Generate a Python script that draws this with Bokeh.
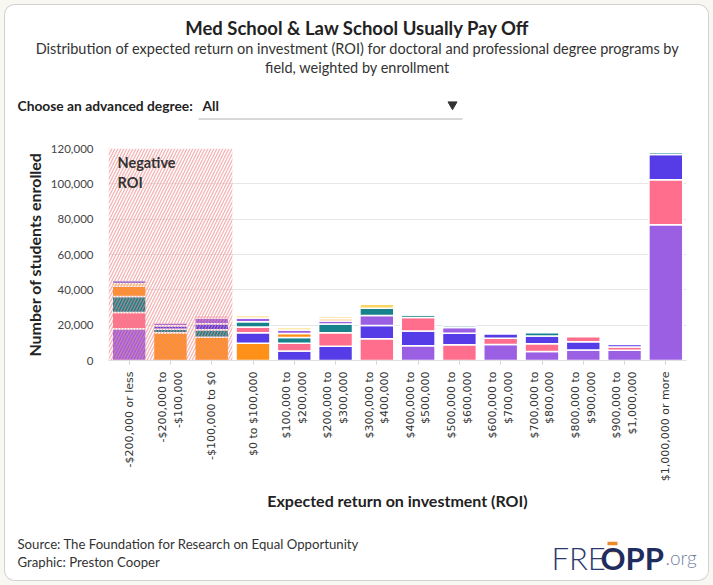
import numpy as np
from bokeh.plotting import figure
from bokeh.models import (ColumnDataSource, FactorRange, Range1d, Label, FixedTicker,
                          NumeralTickFormatter)
from bokeh.layouts import column
from bokeh.embed import file_html
from bokeh.resources import INLINE

# ROI bins (x categories)
roi_bins = [
    "-$200,000 or less", "-$200,000 to\n-$100,000", "-$100,000 to $0", "$0 to $100,000",
    "$100,000 to\n$200,000", "$200,000 to\n$300,000", "$300,000 to\n$400,000",
    "$400,000 to\n$500,000", "$500,000 to\n$600,000", "$600,000 to\n$700,000",
    "$700,000 to\n$800,000", "$800,000 to\n$900,000", "$900,000 to\n$1,000,000",
    "$1,000,000 or more",
]

# Enrollment per field group in each ROI bin
group_purple = [18000, 1800, 3300, 2200, 1900, 1600, 5700, 8400, 3300, 9100, 5100, 6000, 5800, 76800]
group_pink   = [9200, 0, 1200, 3200, 4400, 7700, 12300, 7600, 8900, 3500, 4400, 2800, 1800, 25500]
group_teal   = [9000, 2000, 4200, 3000, 3200, 5000, 4100, 1400, 1000, 0, 1900, 0, 0, 1100]
group_orange = [5800, 15700, 13200, 9800, 2300, 1300, 0, 0, 0, 0, 0, 0, 0, 0]
group_yellow = [1600, 800, 500, 1200, 1300, 1200, 2200, 800, 0, 700, 0, 0, 0, 0]
group_blue   = [1500, 1900, 3400, 5900, 5400, 8000, 7500, 8300, 6500, 2500, 4300, 4600, 1400, 14300]

groups = [group_purple, group_pink, group_teal, group_orange, group_yellow, group_blue]
group_colors = ["#9b5fe3", "#ff6e8c", "#17828c", "#ff9119", "#f9d563", "#553ce6"]

y_ticks = [0, 20000, 40000, 60000, 80000, 100000, 120000]

# Page geometry: a white card inset 5px inside a cream page
PAGE_W, PAGE_H = 713, 585
INSET = 5
W = PAGE_W - 2 * INSET
HEAD_BOTTOM, CHART_BOTTOM = 135, 525          # page y where each strip ends
FRAME_L, FRAME_R, FRAME_T, FRAME_B = 108, 686, 148, 360

# Stack each bin's groups largest-first
xs, bottoms, tops, colors = [], [], [], []
for i, cat in enumerate(roi_bins):
    vals = [(g[i], c) for g, c in zip(groups, group_colors) if g[i] > 0]
    vals.sort(key=lambda t: -t[0])
    base = 0
    for v, c in vals:
        xs.append(cat)
        bottoms.append(base)
        tops.append(base + v)
        colors.append(c)
        base += v

src = ColumnDataSource(dict(x=xs, bottom=bottoms, top=tops, color=colors))


def strip(top, bottom):
    """A blank full-bleed figure whose data units are page pixels (y downward)."""
    h = bottom - top
    f = figure(width=W, height=h, x_range=Range1d(INSET, INSET + W),
               y_range=Range1d(bottom, top), output_backend="svg", toolbar_location=None,
               min_border=0)
    f.frame_align = False
    f.axis.visible = False
    f.grid.visible = False
    f.outline_line_color = None
    f.background_fill_color = "white"
    f.border_fill_color = "white"
    return f


def put(f, text, px, py, size, bold=False, color="#333333", align="left",
        baseline="middle", font="Lato"):
    f.add_layout(Label(x=px, y=py, text=text, text_font=font,
                       text_font_style="bold" if bold else "normal",
                       text_font_size=size, text_color=color, text_align=align,
                       text_baseline=baseline))


# Header: title, subtitle and the degree selector
head = strip(INSET, HEAD_BOTTOM)
put(head, "Med School & Law School Usually Pay Off", 357, 27, "18.5px", bold=True,
    color="#222222", align="center")
put(head, "Distribution of expected return on investment (ROI) for doctoral and "
    "professional degree programs by", 357, 48, "14.5px", align="center")
put(head, "field, weighted by enrollment", 357, 67, "14.5px", align="center")
put(head, "Choose an advanced degree:", 17, 105, "13.8px", bold=True, color="#222222")
put(head, "All", 202, 105, "13.8px", bold=True, color="#222222")
head.scatter(x=[452], y=[104], marker="inverted_triangle", size=9,
             fill_color="#333333", line_color="#333333")
head.segment(x0=[198], y0=[118.5], x1=[462], y1=[118.5], line_color="#b0b0b0",
             line_width=1)

# Chart
p = figure(
    width=W, height=CHART_BOTTOM - HEAD_BOTTOM,
    x_range=FactorRange(*roi_bins, range_padding=0),
    y_range=Range1d(0, y_ticks[-1]),
    output_backend="svg", toolbar_location=None,
    min_border_left=FRAME_L - INSET, min_border_right=INSET + W - FRAME_R,
    min_border_top=FRAME_T - HEAD_BOTTOM, min_border_bottom=CHART_BOTTOM - FRAME_B,
)
p.frame_align = False
p.background_fill_color = "white"
p.border_fill_color = "white"
p.outline_line_color = None

p.vbar(x="x", bottom="bottom", top="top", width=0.82, fill_color="color",
       line_color="white", line_width=1.5, source=src)

# Shaded negative-ROI zone over the first bins
n_negative = sum(1 for c in roi_bins if c.startswith("-"))
p.quad(left=[0], right=[n_negative], bottom=[0], top=[y_ticks[-1]],
       fill_color=None, line_color=None,
       hatch_pattern="/", hatch_color="#f08a8a", hatch_alpha=0.65,
       hatch_scale=6, hatch_weight=1.3)

p.add_layout(Label(x=0, y=y_ticks[-1], x_offset=9, y_offset=-5, text="Negative\nROI",
                   text_font="Lato", text_font_style="bold", text_font_size="14.5px",
                   text_color="#333333", text_baseline="top", text_align="left"))

p.xgrid.grid_line_color = None
p.ygrid.grid_line_color = "#e6e6e6"
p.ygrid.grid_line_width = 1
p.yaxis.ticker = FixedTicker(ticks=y_ticks)
p.yaxis.formatter = NumeralTickFormatter(format="0,0")
p.yaxis.axis_line_color = None
p.yaxis.major_tick_line_color = None
p.yaxis.minor_tick_line_color = None
p.yaxis.major_label_standoff = 9
p.yaxis.major_label_text_font = "Lato"
p.yaxis.major_label_text_font_size = "11.5px"
p.yaxis.major_label_text_color = "#444444"
p.yaxis.axis_label = "Number of students enrolled"
p.yaxis.axis_label_text_font = "Lato"
p.yaxis.axis_label_text_font_style = "bold"
p.yaxis.axis_label_text_font_size = "16px"
p.yaxis.axis_label_text_color = "#222222"
p.yaxis.axis_label_standoff = 4

p.xaxis.axis_line_color = "#e0e0e0"
p.xaxis.major_tick_line_color = "#d4d4d4"
p.xaxis.major_tick_out = 4
p.xaxis.major_tick_in = 0
p.xaxis.major_label_orientation = np.pi / 2
p.xaxis.major_label_standoff = 7
p.xaxis.major_label_text_font = "DejaVu Sans"
p.xaxis.major_label_text_font_size = "11px"
p.xaxis.major_label_text_color = "#333333"
p.xaxis.axis_label = "Expected return on investment (ROI)"
p.xaxis.axis_label_text_font = "Lato"
p.xaxis.axis_label_text_font_style = "bold"
p.xaxis.axis_label_text_font_size = "16px"
p.xaxis.axis_label_text_color = "#222222"
p.xaxis.axis_label_standoff = 7

# Footer: credits and wordmark
foot = strip(CHART_BOTTOM, PAGE_H - INSET)
put(foot, "Source: The Foundation for Research on Equal Opportunity", 17, 543, "13.2px")
put(foot, "Graphic: Preston Cooper", 17, 561, "13.2px")
put(foot, "FRE", 551, 557, "31px", color="#2b3a6e", baseline="alphabetic",
    font="'Lato Light', 'Lato Hairline', Lato")
put(foot, "OPP", 600, 557, "31px", bold=True, color="#1f2c5e", baseline="alphabetic")
put(foot, ".org", 665, 557, "19px", color="#6f7fa0", baseline="alphabetic",
    font="'Lato Light', Lato")
foot.rect(x=[612, 612], y=[543, 550], width=10, height=3.5, fill_color="#e8892a",
          line_color=None)

card = column(head, p, foot, spacing=0,
              styles={"border-radius": "10px", "overflow": "hidden",
                      "box-shadow": "0 0 0 1px #d2d2d2", "background-color": "white"})
card.margin = (INSET, INSET, INSET, INSET)
layout = column(card, styles={"background-color": "#f9f7f1"})
open("out.html", "w").write(file_html(layout, INLINE))
